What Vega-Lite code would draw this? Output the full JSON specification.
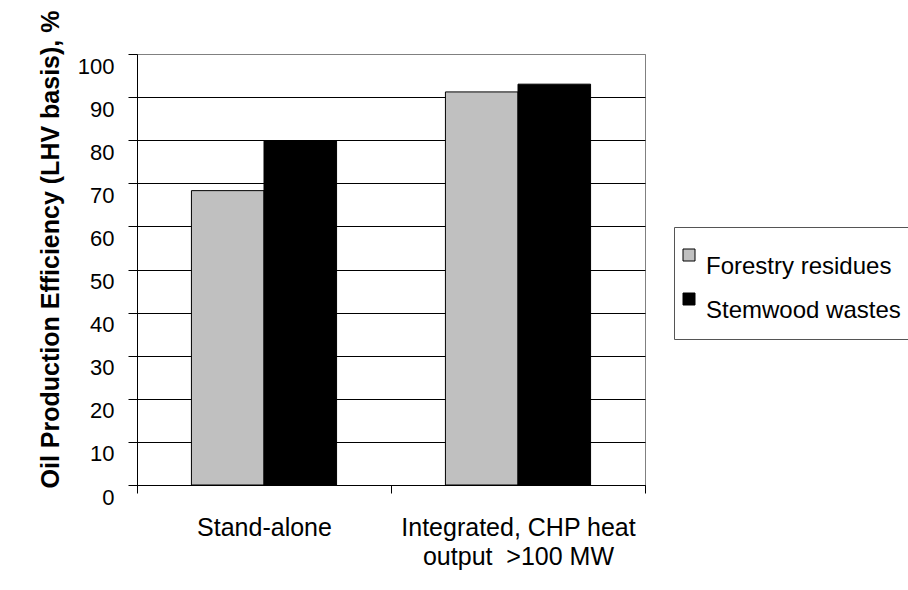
{
  "$schema": "https://vega.github.io/schema/vega-lite/v6.json",
  "width": 508,
  "height": 431,
  "autosize": {"type": "none"},
  "padding": {"left": 137, "top": 54, "right": 263, "bottom": 105},
  "background": "white",
  "data": {
    "values": [
      {"setup": "Stand-alone", "feedstock": "Forestry residues", "efficiency": 68.3},
      {"setup": "Stand-alone", "feedstock": "Stemwood wastes", "efficiency": 79.8},
      {"setup": "Integrated, CHP heat output  >100 MW", "feedstock": "Forestry residues", "efficiency": 91.2},
      {"setup": "Integrated, CHP heat output  >100 MW", "feedstock": "Stemwood wastes", "efficiency": 93.0}
    ]
  },
  "mark": {"type": "bar", "stroke": "#000000", "strokeWidth": 1},
  "encoding": {
    "x": {
      "field": "setup",
      "type": "nominal",
      "sort": ["Stand-alone", "Integrated, CHP heat output  >100 MW"],
      "scale": {"paddingInner": 0, "paddingOuter": 0},
      "axis": {
        "title": null,
        "labelAngle": 0,
        "tickBand": "extent",
        "grid": false,
        "ticks": true,
        "domainColor": "#000000",
        "tickColor": "#000000",
        "tickSize": 8,
        "labelFont": "Liberation Sans",
        "labelFontSize": 25,
        "labelColor": "#000000",
        "labelPadding": 22,
        "labelBaseline": "top",
        "labelLineHeight": 29,
        "labelLimit": 0,
        "labelExpr": "indexof(datum.label, 'Integrated') == 0 ? ['Integrated, CHP heat', 'output \u00a0>100 MW'] : datum.label"
      }
    },
    "xOffset": {
      "field": "feedstock",
      "type": "nominal",
      "scale": {"paddingInner": 0, "paddingOuter": 0.75}
    },
    "y": {
      "field": "efficiency",
      "type": "quantitative",
      "scale": {"domain": [0, 100], "nice": false},
      "axis": {
        "title": "Oil Production Efficiency (LHV basis), %",
        "values": [0, 10, 20, 30, 40, 50, 60, 70, 80, 90, 100],
        "grid": true,
        "ticks": true,
        "gridColor": {"condition": {"test": "datum.value === 100", "value": "#808080"}, "value": "#000000"},
        "gridOpacity": 1,
        "domainColor": "#000000",
        "tickColor": "#000000",
        "tickSize": 9,
        "labelFont": "Liberation Sans",
        "labelFontSize": 22,
        "labelColor": "#000000",
        "labelPadding": 14,
        "labelOffset": 12,
        "titleFont": "Liberation Sans",
        "titleFontSize": 25,
        "titleFontWeight": "bold",
        "titleColor": "#000000",
        "titleBaseline": "alphabetic",
        "titleAlign": "center",
        "titleX": -79,
        "titleY": 195
      }
    },
    "color": {
      "field": "feedstock",
      "type": "nominal",
      "scale": {"domain": ["Forestry residues", "Stemwood wastes"], "range": ["#C0C0C0", "#000000"]},
      "legend": {
        "title": null,
        "orient": "none",
        "legendX": 537,
        "legendY": 173,
        "strokeColor": "#555555",
        "fillColor": "#ffffff",
        "padding": 16,
        "labelFont": "Liberation Sans",
        "labelFontSize": 24,
        "labelColor": "#000000",
        "labelBaseline": "top",
        "labelOffset": 5,
        "labelLimit": 0,
        "symbolType": "square",
        "symbolSize": 144,
        "symbolOffset": -13,
        "symbolStrokeColor": "#000000",
        "symbolStrokeWidth": 1,
        "symbolOpacity": 1,
        "rowPadding": 8
      }
    }
  },
  "config": {
    "view": {"stroke": "#808080", "strokeWidth": 1}
  }
}
